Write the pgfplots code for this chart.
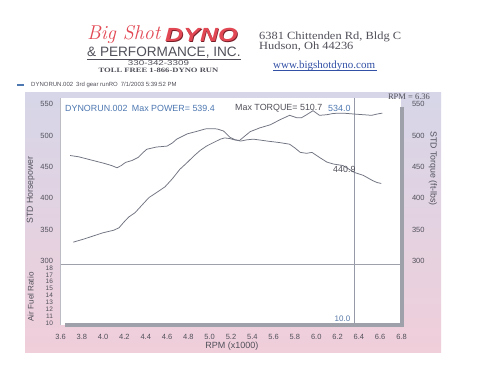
\documentclass[border=0pt]{standalone}
\usepackage{pgfplots}
\pgfplotsset{compat=1.18}
\usepackage{fontspec}
\newfontfamily\lsans{Liberation Sans}
\newfontfamily\lserif{Liberation Serif}
\definecolor{curvec}{RGB}{112,115,128}
\definecolor{tickc}{RGB}{80,80,90}
\definecolor{bluet}{RGB}{78,120,178}
\definecolor{barc}{RGB}{158,160,170}
\definecolor{bgtop}{RGB}{214,214,232}
\definecolor{bgbot}{RGB}{240,206,218}
\definecolor{logored}{RGB}{226,72,84}
\definecolor{darkred}{RGB}{120,30,40}
\definecolor{cursorc}{RGB}{150,154,168}
\definecolor{linkc}{RGB}{50,80,165}
\newcommand\tl{\lsans\fontsize{7.5}{8}\selectfont}
\pgfplotsset{dyno/.style={
  scale only axis, width=341pt, xmin=3.6, xmax=6.8,
  axis line style={draw=none}, major tick length=0pt,
  /pgf/number format/assume math mode=true,
  tick label style={font=\tl, text=tickc},
  anchor=south west,
}}
\begin{document}
\begin{tikzpicture}[x=1pt,y=1pt]
\path[use as bounding box] (0,0) rectangle (480,373);
\fill[white] (0,0) rectangle (480,373);
% header
\node[anchor=base west, inner sep=0, text=logored, font=\fontsize{20}{22}\selectfont\itshape] at (87,333) {Big Shot};
\node[anchor=base west, inner sep=0, text=darkred, font=\lsans\bfseries\itshape\fontsize{19}{20}\selectfont] at (165.7,330.4) {\scalebox{1.32}[1]{DYNO}};
\node[anchor=base west, inner sep=0, text=logored, font=\lsans\bfseries\itshape\fontsize{19}{20}\selectfont] at (165,331) {\scalebox{1.32}[1]{DYNO}};
\node[anchor=base west, inner sep=0, text=tickc, font=\lsans\fontsize{13.6}{14}\selectfont] at (87,316.5) {\& PERFORMANCE, INC.};
\draw[tickc, line width=0.9] (87,313.8) -- (241,313.8);
\node[anchor=base, inner sep=0, text=tickc, font=\lsans\fontsize{7}{8}\selectfont] at (158.5,307) {\scalebox{1.4}[1]{330-342-3309}};
\node[anchor=base, inner sep=0, text=tickc, font=\lserif\bfseries\fontsize{6.6}{7}\selectfont] at (158.5,300.5) {\scalebox{1.3}[1]{TOLL FREE 1-866-DYNO RUN}};
\node[anchor=base west, inner sep=0, text=tickc, font=\lserif\fontsize{11}{12}\selectfont] at (259,333) {\scalebox{1.13}[1]{6381 Chittenden Rd, Bldg C}};
\node[anchor=base west, inner sep=0, text=tickc, font=\lserif\fontsize{11}{12}\selectfont] at (259,323) {\scalebox{1.13}[1]{Hudson, Oh 44236}};
\node[anchor=base west, inner sep=0, text=linkc, font=\lserif\fontsize{11}{12}\selectfont] at (273,304.5) {www.bigshotdyno.com};
\draw[linkc, line width=0.5] (273,303) -- (377,303);
% legend line
\fill[bluet] (16.5,286.8) rectangle (23.5,289.2);
\node[anchor=west, inner sep=0, text=tickc, font=\lsans\fontsize{6}{7}\selectfont] at (31,288) {DYNORUN.002\enspace 3rd gear runRO\enspace 7/1/2003 5:39:52 PM};
% frame
\shade[top color=bgtop, bottom color=bgbot] (25,280) rectangle (441,21);
% upper axis: horsepower
\begin{axis}[dyno, at={(60.5pt,109pt)}, height=166pt, ymin=295.2, ymax=559.6,
  ytick={300,350,400,450,500,550}, xtick=\empty,
  axis background/.style={fill=white}, yticklabel style={xshift=-4pt}]
\addplot[cursorc, line width=0.6pt] coordinates {(6.36,295.2) (6.36,559.6)};
\addplot[curvec, line width=0.75pt, line join=round] coordinates {
(3.72,330) (3.82,335) (3.91,340) (4.00,345) (4.10,349) (4.15,353) (4.19,361)
(4.24,370) (4.30,377) (4.37,390) (4.43,401) (4.51,410) (4.58,418) (4.65,431)
(4.72,446) (4.79,457) (4.85,467) (4.91,476) (4.97,483) (5.04,489) (5.10,494)
(5.14,496) (5.19,495) (5.23,493) (5.28,492) (5.33,499) (5.38,506) (5.47,512)
(5.57,517) (5.66,525) (5.75,532) (5.82,528) (5.86,528) (5.91,533) (5.97,539.4)
(6.03,532) (6.10,533) (6.16,535) (6.25,535.5) (6.36,534) (6.44,533) (6.52,532)
(6.57,534) (6.62,535.5)};
\end{axis}
% upper axis: torque (right)
\begin{axis}[dyno, at={(60.5pt,109pt)}, height=166pt, ymin=295.2, ymax=559.6,
  ytick={300,350,400,450,500,550}, xtick=\empty,
  yticklabel pos=right, yticklabel style={xshift=7pt}]
\addplot[curvec, line width=0.75pt, line join=round] coordinates {
(3.69,468) (3.77,466) (3.85,462.5) (3.93,459) (4.01,455.5) (4.08,452) (4.13,448.5)
(4.17,452) (4.21,457) (4.27,460) (4.33,465) (4.37,472) (4.41,478) (4.50,481.5)
(4.60,483) (4.65,488) (4.69,494) (4.79,502.5) (4.88,506.5) (4.96,510.4) (5.03,510.7)
(5.07,510.3) (5.13,507) (5.19,497) (5.24,493) (5.29,491) (5.35,493) (5.41,494)
(5.50,492) (5.54,491) (5.66,488.5) (5.75,486) (5.80,480) (5.85,473) (5.91,471.5)
(5.96,473) (6.03,465) (6.10,457.5) (6.16,454.5) (6.25,452) (6.36,440.9) (6.44,436.5)
(6.53,428) (6.57,425) (6.61,423.5)};
\end{axis}
% lower axis: air fuel ratio
\begin{axis}[dyno, at={(60.5pt,47.7pt)}, height=61.3pt, ymin=9.665, ymax=18.58,
  ytick={10,11,12,13,14,15,16,17,18},
  xtick={3.6,3.8,4.0,4.2,4.4,4.6,4.8,5.0,5.2,5.4,5.6,5.8,6.0,6.2,6.4,6.6,6.8},
  x tick label style={/pgf/number format/.cd, fixed, fixed zerofill, precision=1, /tikz/.cd, yshift=-5pt, text height=5.5pt, text depth=0pt},
  yticklabel style={xshift=-4pt, font=\lsans\fontsize{6.5}{7}\selectfont},
  axis background/.style={fill=white}]
\addplot[cursorc, line width=0.6pt] coordinates {(6.36,9.665) (6.36,18.58)};
\end{axis}
% borders
\draw[barc!70, line width=0.5] (60.5,275) -- (60.5,47.7);
\draw[barc, line width=0.8] (60.5,109) -- (399.5,109);
\draw[barc, line width=4] (401.5,266) -- (401.5,45.7);
\draw[barc, line width=4] (65,47.7) -- (403.5,47.7);
% annotations
\node[anchor=west, inner sep=0, text=bluet, font=\lsans\fontsize{8.9}{9}\selectfont] at (65,265) {DYNORUN.002\enspace Max POWER= 539.4};
\node[anchor=west, inner sep=0, text=tickc, font=\lsans\fontsize{8.9}{9}\selectfont] at (235,265) {Max TORQUE= 510.7};
\node[anchor=west, inner sep=0, text=bluet, font=\lsans\fontsize{8.9}{9}\selectfont] at (328,265) {534.0};
\node[anchor=west, inner sep=0, text=tickc, font=\lsans\fontsize{8.9}{9}\selectfont] at (333,204) {440.9};
\node[anchor=center, inner sep=0, text=bluet!80!gray, font=\lsans\fontsize{8}{9}\selectfont] at (342.5,54) {10.0};
\node[anchor=center, inner sep=0, text=tickc, font=\lserif\fontsize{8.5}{9}\selectfont] at (409,276.5) {RPM = 6.36};
% axis titles
\node[rotate=90, inner sep=0, text=tickc, font=\lsans\fontsize{8.7}{9}\selectfont] at (30.7,183) {STD Horsepower};
\node[rotate=90, inner sep=0, text=tickc, font=\lsans\fontsize{8.1}{9}\selectfont] at (30.7,76) {Air Fuel Ratio};
\node[rotate=-90, inner sep=0, text=tickc, font=\lsans\fontsize{8.8}{9}\selectfont] at (433,204.5) {STD Torque (ft-lbs)};
\node[inner sep=0, text=tickc, font=\lsans\fontsize{9}{9}\selectfont] at (232,27) {RPM (x1000)};
\end{tikzpicture}
\end{document}
